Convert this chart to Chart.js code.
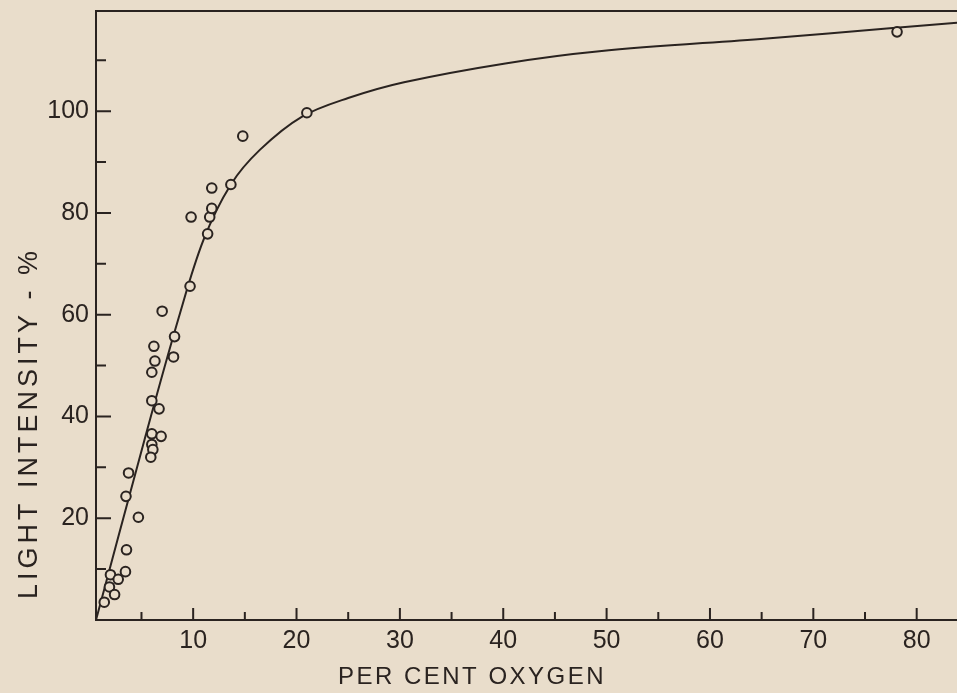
<!DOCTYPE html>
<html lang="en">
<head>
<meta charset="UTF-8">
<title>Light Intensity vs Per Cent Oxygen</title>
<script src="https://cdn.jsdelivr.net/npm/chart.js"></script>
<style>
    body {
        margin: 0;
        background: #e9ddcb;
    }
    .chart-box {
        position: relative;
        width: 957px;
        height: 693px;
    }
</style>
</head>
<body>
<div class="chart-box">
    <canvas id="oxygenChart"></canvas>
</div>
<script>
    // observed points: per cent oxygen vs light intensity (%)
    const oxygenPct = [1.4, 1.9, 2.4, 2.0, 2.75, 3.45, 3.55, 3.75, 3.5, 4.7,
                       6.0, 6.1, 5.9, 6.0, 6.9, 6.0, 6.7, 6.0, 6.3, 6.2,
                       8.1, 8.2, 7.0, 9.7, 9.8, 11.4, 11.6, 11.8, 11.8, 13.65,
                       14.8, 21.0, 78.1];
    const lightPct = [3.5, 6.5, 5.0, 8.9, 8.0, 9.5, 13.8, 28.9, 24.3, 20.2,
                      34.5, 33.5, 32.0, 36.6, 36.1, 43.1, 41.5, 48.7, 50.9, 53.8,
                      51.7, 55.7, 60.7, 65.6, 79.2, 75.9, 79.2, 80.9, 84.9, 85.6,
                      95.1, 99.7, 115.6];

    // hand-drawn fitted curve
    const curveOxygen = [0.6, 5.3, 8.6, 11.0, 13.65, 16.45, 20.5, 25.0, 30.4, 40.2, 49.3, 65.5, 77.4, 83.9];
    const curveLight = [0, 35.5, 59.4, 74.7, 85.6, 92.4, 98.9, 102.6, 105.7, 109.4, 111.8, 114.3, 116.3, 117.4];

    const xTicks = [5, 10, 15, 20, 25, 30, 35, 40, 45, 50, 55, 60, 65, 70, 75, 80];
    const xLabels = [10, 20, 30, 40, 50, 60, 70, 80];
    const yTicks = [10, 20, 30, 40, 50, 60, 70, 80, 90, 100, 110];
    const yLabels = [20, 40, 60, 80, 100];

    const ink = '#2a2320';
    const paper = '#e9ddcb';
    const fontFamily = '"Liberation Sans", Arial, sans-serif';

    // tick marks point into the plot, plus the top frame line and axis titles
    const frameAndTitles = {
        id: 'frameAndTitles',
        beforeDatasetsDraw(chart) {
            const ctx = chart.ctx;
            const area = chart.chartArea;
            const xs = chart.scales.x;
            const ys = chart.scales.y;
            ctx.save();
            ctx.strokeStyle = ink;
            ctx.lineWidth = 2;
            ctx.beginPath();
            xTicks.forEach(v => {
                const px = xs.getPixelForValue(v);
                const len = v % 10 === 0 ? 12 : 8;
                ctx.moveTo(px, area.bottom);
                ctx.lineTo(px, area.bottom - len);
            });
            yTicks.forEach(v => {
                const py = ys.getPixelForValue(v);
                const len = v % 20 === 0 ? 15 : 10;
                ctx.moveTo(area.left, py);
                ctx.lineTo(area.left + len, py);
            });
            // top border
            ctx.moveTo(area.left - 1, area.top);
            ctx.lineTo(area.right, area.top);
            ctx.stroke();
            ctx.restore();
        },
        afterDraw(chart) {
            const ctx = chart.ctx;
            ctx.save();
            ctx.fillStyle = ink;
            ctx.textAlign = 'center';
            ctx.textBaseline = 'middle';
            ctx.font = '24px ' + fontFamily;
            ctx.letterSpacing = '2.5px';
            ctx.fillText('PER CENT OXYGEN', 472, 677);
            ctx.font = '27px ' + fontFamily;
            ctx.letterSpacing = '4px';
            ctx.translate(30, 423);
            ctx.rotate(-Math.PI / 2);
            ctx.fillText('LIGHT INTENSITY - %', 0, 0);
            ctx.restore();
        }
    };

    function noScalePadding(s) {
        s.paddingTop = 0;
        s.paddingBottom = 0;
        s.paddingLeft = 0;
        s.paddingRight = 0;
    }

    const ctx = document.getElementById('oxygenChart').getContext('2d');
    const oxygenChart = new Chart(ctx, {
        type: 'scatter',
        data: {
            datasets: [
                {
                    label: 'Observed',
                    data: oxygenPct.map((x, i) => ({ x: x, y: lightPct[i] })),
                    pointStyle: 'circle',
                    pointRadius: 4.8,
                    pointBorderWidth: 2,
                    pointBorderColor: ink,
                    pointBackgroundColor: paper,
                    order: 0
                },
                {
                    type: 'line',
                    label: 'Curve',
                    data: curveOxygen.map((x, i) => ({ x: x, y: curveLight[i] })),
                    borderColor: ink,
                    borderWidth: 2,
                    pointRadius: 0,
                    tension: 0.35,
                    fill: false,
                    order: 1
                }
            ]
        },
        options: {
            responsive: true,
            maintainAspectRatio: false,
            animation: false,
            layout: { autoPadding: false, padding: { top: 11, right: 0, left: 0, bottom: 0 } },
            plugins: {
                legend: { display: false },
                tooltip: { enabled: false }
            },
            scales: {
                x: {
                    type: 'linear',
                    min: 0.6,
                    max: 83.9,
                    afterBuildTicks: s => { s.ticks = xTicks.map(v => ({ value: v })); },
                    afterFit: s => { s.height = 73; noScalePadding(s); },
                    grid: { display: false, drawTicks: false },
                    border: { display: true, color: ink, width: 2 },
                    ticks: {
                        color: ink,
                        padding: 6,
                        maxRotation: 0,
                        autoSkip: false,
                        font: { family: fontFamily, size: 25 },
                        callback: v => xLabels.includes(v) ? String(v) : ''
                    }
                },
                y: {
                    type: 'linear',
                    min: 0,
                    max: 119.7,
                    afterBuildTicks: s => { s.ticks = yTicks.map(v => ({ value: v })); },
                    afterFit: s => { s.width = 96; noScalePadding(s); },
                    grid: { display: false, drawTicks: false },
                    border: { display: true, color: ink, width: 2 },
                    ticks: {
                        color: ink,
                        padding: 7,
                        autoSkip: false,
                        font: { family: fontFamily, size: 25 },
                        callback: v => yLabels.includes(v) ? String(v) : ''
                    }
                }
            }
        },
        plugins: [frameAndTitles]
    });
</script>
</body>
</html>
